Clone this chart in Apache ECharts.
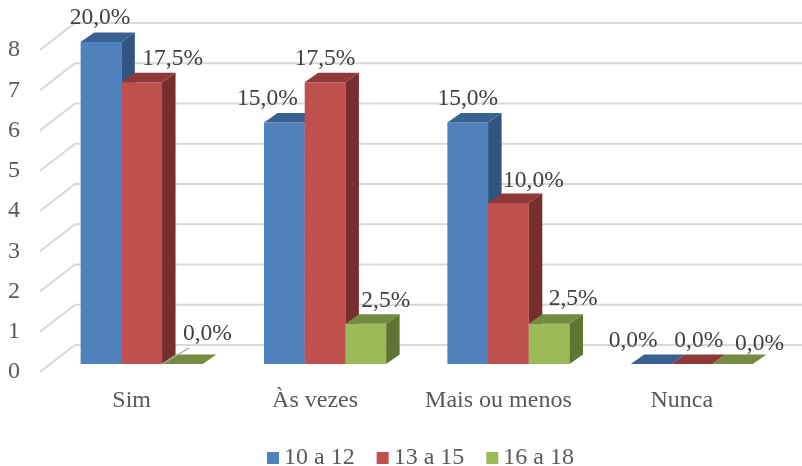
<!DOCTYPE html>
<html>
<head>
<meta charset="utf-8">
<style>html,body{margin:0;padding:0;background:#fff}#chart{width:802px;height:466px}</style>
<script src="https://cdn.jsdelivr.net/npm/echarts@6/dist/echarts.min.js"></script>
</head>
<body>
<div id="chart"></div>
<script>
const categories = ['Sim', 'Às vezes', 'Mais ou menos', 'Nunca'];
const seriesNames = ['10 a 12', '13 a 15', '16 a 18'];
const ticks = [0, 1, 2, 3, 4, 5, 6, 7, 8];
const values1012 = [8, 6, 6, 0];
const values1315 = [7, 7, 4, 0];
const values1618 = [0, 1, 1, 0];
const labels1012 = ['20,0%', '15,0%', '15,0%', '0,0%'];
const labels1315 = ['17,5%', '17,5%', '10,0%', '0,0%'];
const labels1618 = ['0,0%', '2,5%', '2,5%', '0,0%'];

const allValues = [values1012, values1315, values1618];
const allLabels = [labels1012, labels1315, labels1618];

// Face colours per series: front, top, side
const faces = [
  ['#4F81BD', '#3A6191', '#2F5580'],
  ['#C0504D', '#8F3A38', '#772E2C'],
  ['#9BBB59', '#748C42', '#60752F']
];

// Oblique projection of the plot box and of the bars standing inside it
const wallDepth = [35, -27];
const barInset = [10, -8];
const barDepth = [13.5, -9.5];
const barShare = 0.222;

// Manual placement of the data labels, relative to each bar's front top edge
const labelShift = [
  [[-1, -24], [-17, -24], [0, -24], [-18, -23]],
  [[31, -23], [0, -23], [25, -22], [7, -23]],
  [[25, -30], [20, -23], [24, -25], [27, -20]]
];

function barFrontTop(api, s, c, v) {
  const w = api.size([1, 0])[0] * barShare;
  const p = api.coord([c, v]);
  const left = p[0] + barInset[0] + (s - 1.5) * w;
  return { left, top: p[1] + barInset[1], w };
}

function renderWall(params, api) {
  const v = api.value(1);
  const box = params.coordSys;
  const y = api.coord([0, v])[1];
  const bx = box.x + wallDepth[0], by = y + wallDepth[1];
  return {
    type: 'polyline',
    silent: true,
    shape: { points: [[box.x, y], [bx, by], [box.x + box.width + wallDepth[0], by]] },
    style: { stroke: '#D9D9D9', lineWidth: 2.2, fill: null }
  };
}

function makeBarRenderer(s) {
  return function (params, api) {
    const c = api.value(0), v = api.value(1);
    const f = barFrontTop(api, s, c, v);
    const base = barFrontTop(api, s, c, 0).top;
    const [dx, dy] = barDepth;
    const [front, top, side] = faces[s];
    const l = f.left, r = f.left + f.w, t = f.top;
    const children = [];
    if (v > 0) {
      children.push({ type: 'rect', shape: { x: l, y: t, width: f.w, height: base - t }, style: { fill: front } });
      children.push({ type: 'polygon', shape: { points: [[r, t], [r + dx, t + dy], [r + dx, base + dy], [r, base]] }, style: { fill: side } });
    }
    children.push({ type: 'polygon', shape: { points: [[l, t], [l + dx, t + dy], [r + dx, t + dy], [r, t]] }, style: { fill: top } });
    return { type: 'group', children };
  };
}

function renderLabel(params, api) {
  const s = api.value(2), c = api.value(0), v = api.value(1);
  const f = barFrontTop(api, s, c, v);
  const cx = f.left + f.w / 2, shift = labelShift[s][c];
  const children = [];
  // The lifted label of the empty "Sim" bar keeps a leader line to its bar
  if (s === 2 && c === 0) {
    children.push({
      type: 'line',
      shape: { x1: f.left, y1: f.top, x2: f.left + 27, y2: f.top - 16 },
      style: { stroke: '#A6A6A6', lineWidth: 1.3 }
    });
  }
  children.push({
    type: 'text',
    x: cx + shift[0],
    y: f.top + shift[1],
    style: {
      text: allLabels[s][c],
      fill: '#404040',
      font: '23.5px "Liberation Serif"',
      align: 'center',
      verticalAlign: 'middle'
    }
  });
  return { type: 'group', children };
}

const barSeries = seriesNames.map((name, s) => ({
  name,
  type: 'custom',
  itemStyle: { color: faces[s][0] },
  renderItem: makeBarRenderer(s),
  data: allValues[s].map((v, c) => [c, v])
}));

const labelData = [];
allValues.forEach((vals, s) => vals.forEach((v, c) => labelData.push([c, v, s])));

const chart = echarts.init(document.getElementById('chart'), null, { renderer: 'canvas' });
chart.setOption({
  animation: false,
  backgroundColor: '#ffffff',
  grid: { left: 40, top: 50, width: 733.5, height: 322, containLabel: false },
  legend: {
    data: seriesNames,
    left: 267,
    top: 446,
    padding: 0,
    icon: 'rect',
    itemWidth: 12,
    itemHeight: 12,
    itemGap: 22,
    textStyle: { color: '#595959', fontFamily: 'Liberation Serif', fontSize: 24 }
  },
  xAxis: {
    type: 'category',
    data: categories,
    axisLine: { show: false },
    axisTick: { show: false },
    axisLabel: { color: '#595959', fontFamily: 'Liberation Serif', fontSize: 24, margin: 17, interval: 0 }
  },
  yAxis: {
    type: 'value',
    min: 0,
    max: 8,
    interval: 1,
    axisLine: { show: false },
    axisTick: { show: false },
    splitLine: { show: false },
    axisLabel: { color: '#595959', fontFamily: 'Liberation Serif', fontSize: 24, margin: 20, padding: [7, 0, 0, 0] }
  },
  series: [
    { type: 'custom', silent: true, renderItem: renderWall, data: ticks.map(t => [0, t]) },
    ...barSeries,
    { type: 'custom', silent: true, renderItem: renderLabel, data: labelData }
  ]
});
</script>
</body>
</html>
